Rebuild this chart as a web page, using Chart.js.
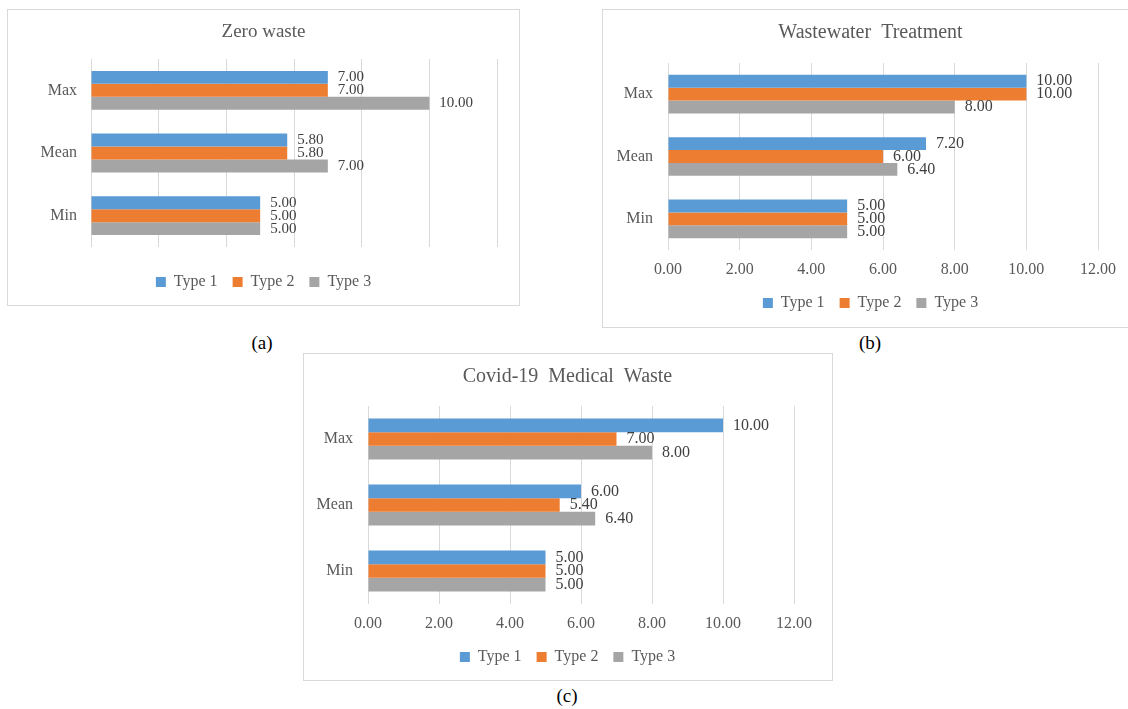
<!DOCTYPE html>
<html>
<head>
<meta charset="utf-8">
<script src="https://cdn.jsdelivr.net/npm/chart.js@4.4.1/dist/chart.umd.min.js"></script>
<style>
  html, body { margin: 0; padding: 0; background: #fff; width: 1128px; height: 709px; overflow: hidden; position: relative; }
  .frame { position: absolute; border: 1px solid #d9d9d9; box-sizing: border-box; }
  canvas { position: absolute; }
  .cap { position: absolute; font-family: 'Liberation Serif', 'Times New Roman', serif; font-size: 19px; color: #000;
         transform: translate(-50%, -50%); white-space: nowrap; line-height: 1; }
</style>
</head>
<body>
<div class="frame" style="left:7px;top:9px;width:513px;height:297px;"></div>
<div class="frame" style="left:602px;top:9px;width:560px;height:319px;"></div>
<div class="frame" style="left:303px;top:353px;width:530px;height:328px;"></div>

<canvas id="zero" width="511" height="294" style="left:8px;top:10px;width:511px;height:294px;"></canvas>
<canvas id="wastewater" width="535" height="316" style="left:603px;top:10px;width:535px;height:316px;"></canvas>
<canvas id="covid" width="527" height="325" style="left:304px;top:354px;width:527px;height:325px;"></canvas>

<div class="cap" style="left:262px;top:342px;">(a)</div>
<div class="cap" style="left:870px;top:342px;">(b)</div>
<div class="cap" style="left:567px;top:695px;">(c)</div>

<script>
// Categories, series names and axis ticks
const categories = ['Max', 'Mean', 'Min'];
const seriesNames = ['Type 1', 'Type 2', 'Type 3'];
const seriesColors = ['#5B9BD5', '#ED7D31', '#A5A5A5'];
const xTicks = [0, 2, 4, 6, 8, 10, 12];

// Zero waste
const zeroType1 = [7.00, 5.80, 5.00];
const zeroType2 = [7.00, 5.80, 5.00];
const zeroType3 = [10.00, 7.00, 5.00];

// Wastewater Treatment
const wastewaterType1 = [10.00, 7.20, 5.00];
const wastewaterType2 = [10.00, 6.00, 5.00];
const wastewaterType3 = [8.00, 6.40, 5.00];

// Covid-19 Medical Waste
const covidType1 = [10.00, 6.00, 5.00];
const covidType2 = [7.00, 5.40, 5.00];
const covidType3 = [8.00, 6.40, 5.00];

const FONT = "'Liberation Serif', 'Times New Roman', serif";
const GREY_TEXT = '#595959';

// Writes each bar's value just past its end
const valueLabels = {
  id: 'valueLabels',
  afterDatasetsDraw(chart, args, opts) {
    const ctx = chart.ctx;
    ctx.save();
    ctx.font = opts.size + 'px ' + FONT;
    ctx.fillStyle = '#404040';
    ctx.textAlign = 'left';
    ctx.textBaseline = 'middle';
    chart.data.datasets.forEach((ds, i) => {
      chart.getDatasetMeta(i).data.forEach((bar, j) => {
        ctx.fillText(ds.data[j].toFixed(2), bar.x + opts.offset, bar.y);
      });
    });
    ctx.restore();
  }
};

function buildChart(id, title, series, g) {
  const datasets = series.map((values, i) => ({
    label: seriesNames[i],
    data: values,
    backgroundColor: seriesColors[i],
    borderWidth: 0,
    categoryPercentage: 0.62,
    barPercentage: 1.0
  }));

  return new Chart(document.getElementById(id), {
    type: 'bar',
    data: { labels: categories, datasets },
    plugins: [valueLabels],
    options: {
      indexAxis: 'y',
      responsive: false,
      animation: false,
      devicePixelRatio: 1,
      layout: { padding: { left: 0, right: 0, top: 0, bottom: g.padBottom } },
      scales: {
        x: {
          type: 'linear',
          position: 'bottom',
          min: xTicks[0],
          max: xTicks[xTicks.length - 1],
          ticks: {
            display: g.showTicks,
            stepSize: xTicks[1] - xTicks[0],
            padding: g.tickPad,
            color: GREY_TEXT,
            font: { family: FONT, size: 16 },
            callback: v => Number(v).toFixed(2)
          },
          grid: { color: '#d9d9d9', lineWidth: 1, drawTicks: false },
          border: { display: false },
          afterFit(s) { s.height = g.xHeight; }
        },
        y: {
          type: 'category',
          position: 'left',
          grid: { display: false, drawTicks: false },
          border: { display: false },
          ticks: { padding: g.yPad, color: GREY_TEXT, font: { family: FONT, size: 16 } },
          afterFit(s) { s.width = g.yWidth; }
        },
        yGap: {
          type: 'category',
          position: 'right',
          labels: categories,
          grid: { display: false, drawTicks: false },
          border: { display: false },
          ticks: { display: false },
          afterFit(s) { s.width = g.rightWidth; }
        }
      },
      plugins: {
        title: {
          display: true,
          text: title,
          color: GREY_TEXT,
          font: { family: FONT, size: g.titleSize, weight: 'normal' },
          padding: { top: g.titleTop, bottom: g.titleBottom }
        },
        legend: {
          position: 'bottom',
          labels: {
            boxWidth: 10,
            boxHeight: 10,
            padding: 15,
            color: GREY_TEXT,
            font: { family: FONT, size: 16 }
          }
        },
        tooltip: { enabled: false },
        valueLabels: { size: g.labelSize, offset: 10 }
      }
    }
  });
}

buildChart('zero', 'Zero waste', [zeroType1, zeroType2, zeroType3], {
  yWidth: 83, rightWidth: 22, xHeight: 12, padBottom: 4, showTicks: false, tickPad: 10,
  yPad: 14, titleSize: 19, titleTop: 10.6, titleBottom: 15.6, labelSize: 15
});

buildChart('wastewater', 'Wastewater  Treatment', [wastewaterType1, wastewaterType2, wastewaterType3], {
  yWidth: 65, rightWidth: 40, xHeight: 30, padBottom: 5, showTicks: true, tickPad: 10,
  yPad: 15, titleSize: 20, titleTop: 11, titleBottom: 18, labelSize: 16
});

buildChart('covid', 'Covid-19  Medical  Waste', [covidType1, covidType2, covidType3], {
  yWidth: 64, rightWidth: 37, xHeight: 30, padBottom: 4, showTicks: true, tickPad: 10,
  yPad: 15, titleSize: 20, titleTop: 11, titleBottom: 17, labelSize: 16
});
</script>
</body>
</html>
